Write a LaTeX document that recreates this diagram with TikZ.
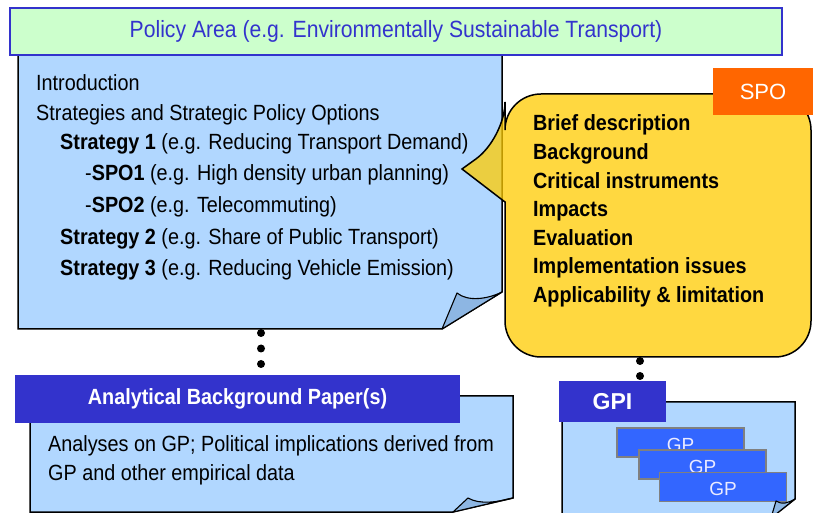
\documentclass[tikz,border=0pt]{standalone}
\usepackage{fontspec}
\setmainfont{Liberation Sans}
\newfontfamily\narrow{Liberation Sans}[FakeStretch=0.9]
\usetikzlibrary{calc}
\definecolor{docblue}{HTML}{B1D7FF}
\definecolor{flapblue}{HTML}{8DB6E3}
\definecolor{hdrblue}{HTML}{3333CC}
\definecolor{titlegreen}{HTML}{CCFFCC}
\definecolor{spoorange}{HTML}{FF6600}
\definecolor{gpblue}{HTML}{3366FF}
\definecolor{bubyellow}{RGB}{255,203,0}
\tikzset{
 doc/.style={draw=black, line width=1.5pt, fill=docblue, line join=miter},
 flap/.style={draw=black, line width=1.1pt, fill=flapblue, line join=round},
 bodytext/.style={anchor=base west, inner sep=0pt, font=\narrow\fontsize{22}{26}\selectfont},
 bubtext/.style={anchor=base west, inner sep=0pt, font=\narrow\bfseries\fontsize{22}{26}\selectfont},
 header/.style={fill=hdrblue, text=white, inner sep=0pt},
 gpcard/.style={fill=gpblue, draw=gray, line width=1.8pt, minimum width=127pt, minimum height=29pt, inner sep=0pt},
 gptext/.style={anchor=base, inner sep=0pt, text=white!92!blue, font=\fontsize{19}{22}\selectfont},
 dotchain/.style={line width=8pt, line cap=round, dash pattern=on 0pt off 15.5pt},
}
\begin{document}
\begin{tikzpicture}[x=1pt,y=-1pt]
\useasboundingbox (0,0) rectangle (815,513);
\fill[white] (0,0) rectangle (815,513);

% ---------- main document ----------
\path[doc] (18,50) -- (502,50) -- (502,292) -- (442,329) -- (18,329) -- cycle;
\path[flap] (442,329) -- (457,293) .. controls (468,302) and (488,299) .. (502,292) -- cycle;
\coordinate (mainbot) at (261,333);

\node[bodytext] (t1) at (36,91) {Introduction};
\node[bodytext] (t2) at (36,121) {Strategies and Strategic Policy Options};
\node[bodytext] (t3) at (60,150) {\textbf{Strategy 1} (e.g. Reducing Transport Demand)};
\node[bodytext] (t4) at (85,181) {-\textbf{SPO1} (e.g. High density urban planning)};
\node[bodytext] (t5) at (85,213) {-\textbf{SPO2} (e.g. Telecommuting)};
\node[bodytext] (t6) at (60,245) {\textbf{Strategy 2} (e.g. Share of Public Transport)};
\node[bodytext] (t7) at (60,276) {\textbf{Strategy 3} (e.g. Reducing Vehicle Emission)};

% ---------- title bar ----------
\node[draw=hdrblue, line width=1.8pt, fill=titlegreen, minimum width=772pt, minimum height=47pt, inner sep=0pt,
      text=hdrblue, font=\narrow\fontsize{23.5}{27}\selectfont] (title) at (396,31.5)
      {Policy Area (e.g. Environmentally Sustainable Transport)};

% ---------- SPO callout ----------
\path[draw=black, line width=1.5pt, fill=bubyellow, fill opacity=0.75, draw opacity=1]
  (505,202) [rounded corners=36pt] -- (505,357) -- (811,357) -- (811,94) -- (505,94) -- (505,138)
  [sharp corners] -- (462,169) -- cycle;
\coordinate (bubbot) at (640,361);

\node[fill=spoorange, text=white, minimum width=100pt, minimum height=47pt, inner sep=0pt,
      font=\fontsize{22}{25}\selectfont] (spo) at (763,91.5) {SPO};

\node[bubtext] (b1) at (533,131) {Brief description};
\node[bubtext] (b2) at (533,160) {Background};
\node[bubtext] (b3) at (533,189) {Critical instruments};
\node[bubtext] (b4) at (533,217) {Impacts};
\node[bubtext] (b5) at (533,246) {Evaluation};
\node[bubtext] (b6) at (533,274) {Implementation issues};
\node[bubtext] (b7) at (533,303) {Applicability \& limitation};

% ---------- analytical background paper ----------
\path[doc] (30,396) -- (513,396) -- (513,498) -- (453,512) -- (30,512) -- cycle;
\path[flap] (453,512) -- (468,498) .. controls (480,505) and (498,502) .. (513,498) -- cycle;
\node[header, minimum width=445pt, minimum height=48pt, font=\narrow\bfseries\fontsize{22}{25}\selectfont]
  (abp) at (237.5,399) {Analytical Background Paper(s)};
\coordinate (abptop) at (261,364);
\node[bodytext] (a1) at (48,451) {Analyses on GP; Political implications derived from};
\node[bodytext] (a2) at (48,480) {GP and other empirical data};

% ---------- GPI ----------
\path[doc] (562,402) -- (795,402) -- (795,499) -- (771,518) -- (562,518) -- cycle;
\node[header, minimum width=107pt, minimum height=41pt, font=\bfseries\fontsize{23}{26}\selectfont]
  (gpi) at (612.5,401.5) {GPI};
\coordinate (gpitop) at (640,376);

\node[gpcard] (gp1) at (680.5,442.5) {};
\node[gptext] (gp1t) at ($(gp1.north)+(0,24)$) {GP};
\node[gpcard] (gp2) at (702.5,464.5) {};
\node[gptext] (gp2t) at ($(gp2.north)+(0,24)$) {GP};
\node[gpcard] (gp3) at (723,487) {};
\node[gptext] (gp3t) at ($(gp3.north)+(0,24)$) {GP};
\path[flap] (771,518) -- (776,501) .. controls (782,505) and (788,503) .. (795,499) -- cycle;

% ---------- dotted connectors ----------
\draw[dotchain] (mainbot) -- (abptop);
\draw[dotchain, dash pattern=on 0pt off 15pt] (bubbot) -- (gpitop);
\end{tikzpicture}
\end{document}
